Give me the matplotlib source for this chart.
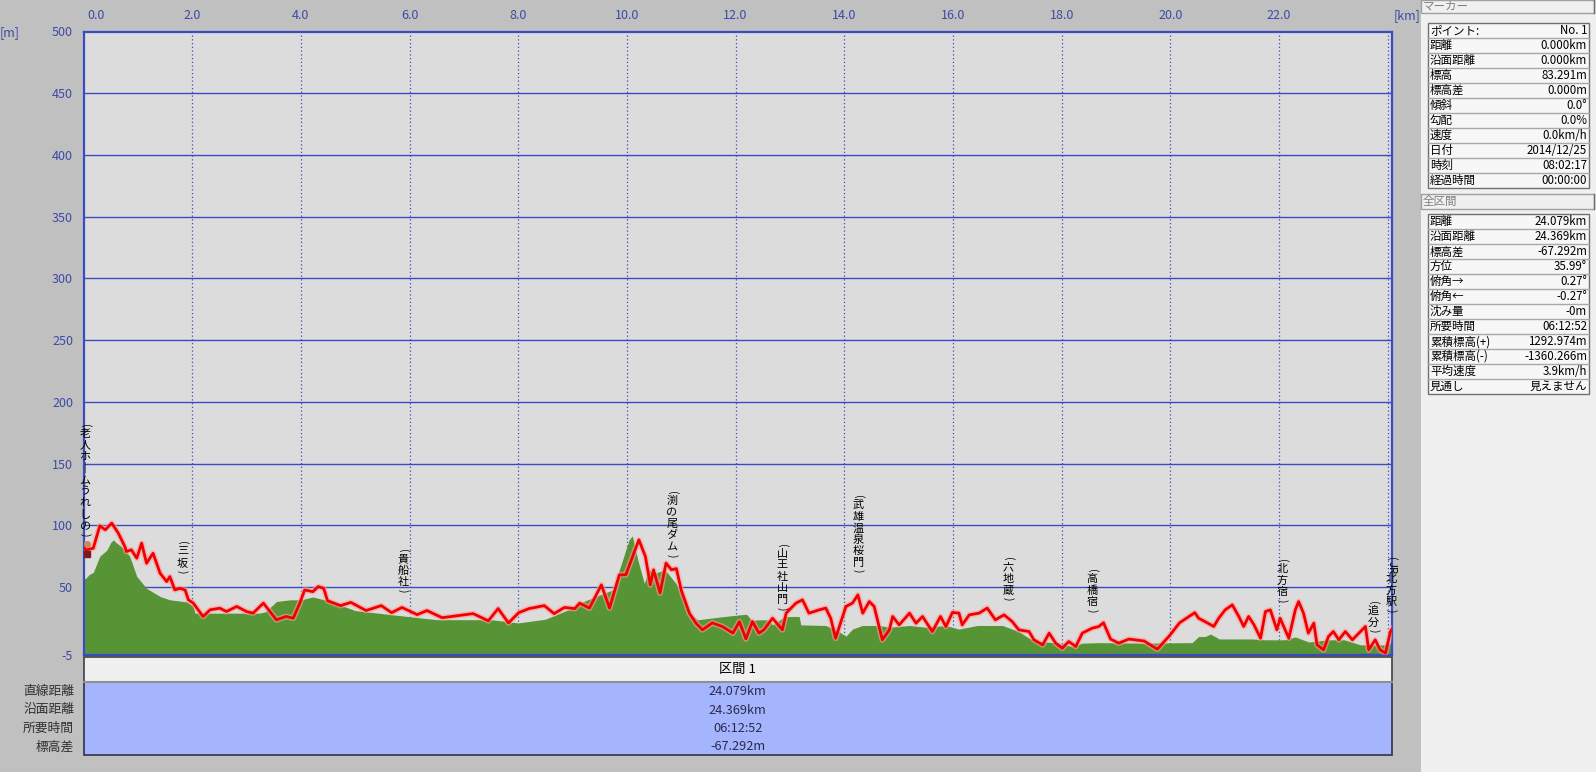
import matplotlib
matplotlib.use('Agg')
import matplotlib.pyplot as plt
from matplotlib import transforms
from matplotlib.patches import Rectangle

plt.rcParams['font.family'] = ['Noto Sans CJK JP', 'DejaVu Sans']

W, H = 1596, 772

# ---------------- data ----------------
track_km = [0.00, 0.04, 0.18, 0.30, 0.40, 0.52, 0.64, 0.76, 0.79, 0.88, 0.98, 1.07, 1.16, 1.28, 1.41,
            1.53, 1.59, 1.68, 1.77, 1.87, 1.93, 2.02, 2.20, 2.33, 2.51, 2.63, 2.82, 3.00, 3.12, 3.31,
            3.55, 3.73, 3.86, 3.98, 4.07, 4.22, 4.32, 4.42, 4.49, 4.73, 4.92, 5.20, 5.48, 5.67, 5.86,
            6.14, 6.32, 6.60, 6.89, 7.17, 7.45, 7.63, 7.82, 8.01, 8.20, 8.48, 8.66, 8.85, 9.04, 9.13,
            9.31, 9.53, 9.68, 9.86, 9.98, 10.22, 10.34, 10.43, 10.49, 10.61, 10.72, 10.82, 10.91, 11.00,
            11.15, 11.27, 11.39, 11.57, 11.76, 11.95, 12.07, 12.19, 12.31, 12.43, 12.52, 12.68, 12.86,
            12.93, 13.11, 13.23, 13.35, 13.54, 13.66, 13.75, 13.84, 14.03, 14.15, 14.25, 14.34, 14.46,
            14.55, 14.61, 14.70, 14.83, 14.89, 15.01, 15.20, 15.32, 15.44, 15.62, 15.77, 15.87, 15.99,
            16.11, 16.17, 16.30, 16.48, 16.63, 16.78, 16.94, 17.09, 17.21, 17.40, 17.49, 17.65, 17.77,
            17.89, 18.01, 18.13, 18.26, 18.38, 18.56, 18.68, 18.77, 18.90, 19.05, 19.24, 19.52, 19.76,
            19.98, 20.17, 20.45, 20.52, 20.64, 20.80, 20.89, 21.01, 21.14, 21.26, 21.35, 21.44, 21.54,
            21.66, 21.75, 21.84, 21.96, 22.02, 22.18, 22.30, 22.36, 22.45, 22.54, 22.64, 22.70, 22.82,
            22.91, 23.00, 23.10, 23.22, 23.35, 23.47, 23.59, 23.65, 23.77, 23.86, 23.96, 24.05, 24.079]
track_elev = [83.3, 80.0, 81.5, 99.6, 96.4, 101.8, 93.7, 82.9, 78.8, 80.2, 73.4, 85.6, 69.3, 77.4, 61.2,
              54.5, 58.5, 47.7, 49.0, 47.7, 39.7, 37.0, 26.2, 31.6, 32.9, 30.2, 34.3, 30.2, 28.9, 37.0,
              23.5, 26.2, 24.8, 37.0, 47.7, 46.3, 50.4, 49.0, 39.0, 35.0, 37.6, 31.0, 35.0, 29.3, 33.5,
              27.7, 31.0, 25.2, 26.9, 28.5, 22.7, 32.6, 21.0, 29.3, 32.6, 35.0, 28.5, 33.5, 32.6, 37.0,
              33.0, 51.8, 33.0, 59.9, 60.0, 88.3, 74.8, 51.8, 64.0, 45.3, 69.4, 64.0, 65.0, 47.5,
              28.9, 20.8, 15.4, 21.0, 18.0, 12.7, 22.0, 8.0, 22.1, 12.7, 15.4, 24.8, 15.4,
              28.9, 37.0, 39.7, 28.9, 31.6, 33.0, 24.8, 8.6, 34.3, 37.0, 43.7, 28.9, 38.3,
              34.3, 23.5, 7.3, 15.4, 26.2, 19.4, 28.9, 20.8, 26.2, 14.0, 26.2, 18.0, 29.5,
              28.9, 19.4, 27.5, 28.9, 33.0, 23.5, 27.5, 22.1, 15.4, 14.0, 7.3, 3.2, 12.7,
              4.6, 0.5, 5.9, 1.9, 12.7, 16.7, 18.0, 21.1, 7.9, 4.6, 7.9, 6.3, -0.3,
              10.4, 21.1, 29.3, 24.8, 22.0, 18.1, 24.8, 31.6, 35.6, 26.2, 18.1, 26.2, 19.4,
              8.6, 30.2, 31.6, 15.4, 24.8, 8.6, 31.6, 38.3, 28.9, 12.7, 20.8, 3.2, -0.8,
              10.0, 14.0, 7.3, 14.0, 7.3, 12.7, 18.1, -0.8, 7.3, -0.8, -3.5, 14.0, 16.0]

terrain_km = [0.00, 0.04, 0.10, 0.18, 0.30, 0.43, 0.50, 0.55, 0.60, 0.72, 0.85, 0.98, 1.16, 1.41, 1.59,
              1.90, 2.02, 2.05, 3.24, 3.35, 3.55, 3.80, 4.00, 4.22, 4.50, 5.00, 5.50, 6.00, 6.50, 7.50,
              8.00, 8.50, 9.00, 9.13, 9.43, 9.74, 9.92, 10.04, 10.10, 10.20, 10.32, 10.40, 10.50, 10.70,
              10.90, 11.00, 11.15, 11.30, 11.76, 12.07, 12.20, 12.30, 12.43, 12.60, 12.68, 12.90, 13.05,
              13.17, 13.20, 13.66, 13.90, 14.03, 14.15, 14.33, 14.64, 14.83, 15.20, 15.50, 15.87, 16.11,
              16.45, 16.91, 17.21, 17.40, 17.58, 17.95, 18.19, 18.38, 18.70, 19.50, 20.40, 20.52, 20.64,
              20.74, 20.90, 21.20, 21.50, 21.75, 22.10, 22.30, 22.55, 22.90, 23.20, 23.50, 23.96, 24.05,
              24.079]
terrain_elev = [57.0, 57.0, 60.0, 62.0, 75.0, 80.0, 86.0, 88.3, 86.0, 82.0, 75.0, 58.6, 49.0, 42.4, 39.7,
                38.0, 34.3, 28.9, 28.9, 30.0, 38.3, 39.7, 39.7, 42.0, 39.0, 31.0, 28.5, 26.0, 23.6, 23.6,
                21.0, 24.0, 33.0, 37.0, 42.4, 47.7, 72.0, 88.3, 91.5, 72.0, 53.0, 64.0, 61.0, 64.0,
                53.0, 45.0, 28.9, 23.5, 26.0, 27.5, 28.0, 23.0, 23.5, 23.5, 19.4, 26.0, 26.2,
                26.2, 19.4, 18.9, 14.0, 10.2, 16.0, 18.9, 18.9, 17.5, 18.9, 17.5, 18.9, 16.0,
                18.9, 18.9, 14.0, 8.6, 6.0, 4.6, 1.9, 4.6, 5.0, 4.6, 5.0, 10.0, 10.0,
                12.0, 8.0, 8.0, 8.0, 7.3, 7.3, 9.6, 5.5, 7.3, 7.3, 3.2, 3.2, 4.6,
                4.6]

y_ticks = [-5, 50, 100, 150, 200, 250, 300, 350, 400, 450, 500]
x_ticks = [0, 2, 4, 6, 8, 10, 12, 14, 16, 18, 20, 22, 24]
x_tick_labels = ['0.0', '2.0', '4.0', '6.0', '8.0', '10.0', '12.0', '14.0', '16.0', '18.0', '20.0', '22.0', '']

poi_names = ['(老人ホームうれしの)', '(三坂)', '(貴船社)', '(渕の尾ダム)', '(山王社山門)', '(武雄温泉桜門)',
             '(六地蔵)', '(高橋宿)', '(北方宿)', '(追分)', '(JR北方駅)']
poi_km = [0.03, 1.82, 5.88, 10.83, 12.86, 14.26, 17.02, 18.56, 22.06, 23.74, 24.07]
poi_top = [183, 88, 82, 129, 86, 125.5, 75, 65.6, 73.7, 39.7, 74.8]

section_title = '区間 1'
section_row_labels = ['直線距離', '沿面距離', '所要時間', '標高差']
section_values = ['24.079km', '24.369km', '06:12:52', '-67.292m']

marker_title = 'マーカー'
marker_labels = ['ポイント:', '距離', '沿面距離', '標高', '標高差', '傾斜', '勾配', '速度', '日付', '時刻', '経過時間']
marker_values = ['No. 1', '0.000km', '0.000km', '83.291m', '0.000m', '0.0°', '0.0%', '0.0km/h',
                 '2014/12/25', '08:02:17', '00:00:00']

total_title = '全区間'
total_labels = ['距離', '沿面距離', '標高差', '方位', '俯角→', '俯角←', '沈み量', '所要時間',
                '累積標高(+)', '累積標高(-)', '平均速度', '見通し']
total_values = ['24.079km', '24.369km', '-67.292m', '35.99°', '0.27°', '-0.27°', '-0m', '06:12:52',
                '1292.974m', '-1360.266m', '3.9km/h', '見えません']

# ---------------- layout ----------------
L, R, T, B = 83.5, 1392.0, 31.5, 655.0
BLUE = '#3a4bbf'
TICKC = '#3d4aa6'

fig = plt.figure(figsize=(W / 100, H / 100), dpi=100, facecolor='#c0c0c0')

ov = fig.add_axes([0, 0, 1, 1], zorder=0)
ov.set_xlim(0, W)
ov.set_ylim(H, 0)
ov.axis('off')

ax = fig.add_axes([L / W, 1 - B / H, (R - L) / W, (B - T) / H], zorder=2)
ax.set_facecolor('#dcdcdc')
ax.set_xlim(0, 24.079)
ax.set_ylim(-5, 500)

# grid
for yv in y_ticks[1:-1]:
    ax.axhline(yv, color=BLUE, lw=1.0, zorder=1)
for xv in x_ticks[1:]:
    ax.axvline(xv, color=BLUE, lw=0.9, ls=(0, (1, 2)), zorder=1)

ax.fill_between(terrain_km, -5, terrain_elev, color='#579436', lw=0, zorder=2)
ax.plot(track_km, track_elev, color='#ff9a9a', lw=4.2, alpha=0.6, zorder=3, solid_joinstyle='round')
ax.plot(track_km, track_elev, color='#f20000', lw=2.0, zorder=4, solid_joinstyle='round')

# hiker icon at start
ax.plot([0.06], [77], marker='s', ms=5, color='#7a1c1c', zorder=5, clip_on=False)
ax.plot([0.06], [85], marker='o', ms=4, color='#c98a5a', zorder=5, clip_on=False)

for s in ax.spines.values():
    s.set_color(BLUE)
    s.set_linewidth(1.6)

ax.set_yticks(y_ticks)
ax.set_yticklabels([str(v) for v in y_ticks])
ax.tick_params(axis='y', length=0, pad=7.5, labelsize=9, labelcolor=TICKC)
ax.set_xticks([])

for xv, lab in zip(x_ticks, x_tick_labels):
    if not lab:
        continue
    if xv == 0:
        ax.annotate(lab, xy=(xv, 1), xycoords=('data', 'axes fraction'), xytext=(3, 7),
                    textcoords='offset points', ha='left', va='bottom', fontsize=9, color=TICKC)
    else:
        ax.annotate(lab, xy=(xv, 1), xycoords=('data', 'axes fraction'), xytext=(0, 7),
                    textcoords='offset points', ha='center', va='bottom', fontsize=9, color=TICKC)

ov.text(10, 33, '[m]', ha='center', va='center', fontsize=9, color=TICKC)
ov.text(1407, 16, '[km]', ha='center', va='center', fontsize=9, color=TICKC)

# vertical point-of-interest labels (upright characters stacked top to bottom)
def vlabel(x, ytop, text):
    off = 0.0
    i = 0
    while i < len(text):
        ch = text[i]
        rot = 0
        fs = 8.0
        if ch in '()':
            glyph, h, rot, fs = ch, 5.5, -90, 7.5
        elif text[i:i + 2] == 'JR':
            glyph, h, rot = 'JR', 11.5, -90
            i += 1
        elif ch == 'ー':
            glyph, h = '｜', 11.5
        else:
            glyph, h = ch, 11.5
        tr = transforms.offset_copy(ax.transData, fig=fig, x=0, y=-(off + h / 2), units='dots')
        ax.text(x, ytop, glyph, transform=tr, ha='center', va='center', fontsize=fs,
                color='black', rotation=rot, clip_on=False, zorder=6)
        off += h
        i += 1

for name, xk, yt in zip(poi_names, poi_km, poi_top):
    vlabel(xk, yt, name)

# bottom section table
ov.add_patch(Rectangle((L, 657), R - L, 25, facecolor='#f0f0f0', edgecolor='#404040', lw=1.2))
ov.add_patch(Rectangle((L, 682), R - L, 73, facecolor='#a5b5fd', edgecolor='#30304a', lw=1.2))
ov.plot([L, R], [682, 682], color='#909090', lw=1.5)
cx = (L + R) / 2
ov.text(cx, 670, section_title, ha='center', va='center', fontsize=9.5, color='black')
row_y = [691.7, 710.0, 728.3, 746.7]
for lab, val, yy in zip(section_row_labels, section_values, row_y):
    ov.text(74, yy, lab, ha='right', va='center', fontsize=9.2, color='#303030')
    ov.text(cx, yy, val, ha='center', va='center', fontsize=9.2, color='#2a2a50')

# right info panel
ov.add_patch(Rectangle((1421, 0), W - 1421, H, facecolor='#f0f0f0', edgecolor='none'))

def header(y0, y1, title):
    ov.add_patch(Rectangle((1421, y0), 173, y1 - y0, facecolor='#f0f0f0', edgecolor='#a0a0a0', lw=1))
    ov.plot([1593.5, 1593.5], [y0, y1], color='#707070', lw=1)
    ov.text(1423, (y0 + y1) / 2, title, ha='left', va='center', fontsize=8.3, color='#808080')

def table(y0, row_h, labels, values):
    n = len(labels)
    ov.add_patch(Rectangle((1428, y0), 161, row_h * n, facecolor='#f7f7f7', edgecolor='#707070', lw=1))
    for i, (lab, val) in enumerate(zip(labels, values)):
        yy = y0 + i * row_h
        if i > 0:
            ov.plot([1428, 1589], [yy, yy], color='#a8a8a8', lw=1)
        ov.text(1430, yy + row_h / 2, lab, ha='left', va='center', fontsize=8.3, color='black')
        ov.text(1587, yy + row_h / 2, val, ha='right', va='center', fontsize=8.3, color='black')

header(0, 12.7, marker_title)
table(22.7, 15.05, marker_labels, marker_values)
header(194, 209, total_title)
table(214.3, 14.97, total_labels, total_values)

fig.savefig('out.png', dpi=100, facecolor=fig.get_facecolor())
